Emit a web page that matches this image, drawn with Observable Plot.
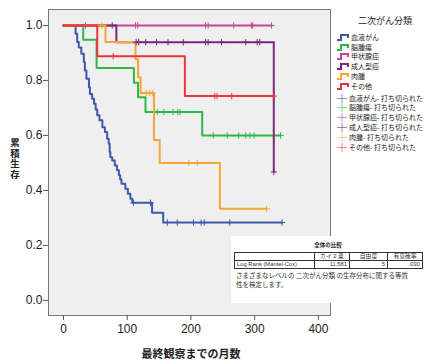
<!DOCTYPE html>
<html>
<head>
<meta charset="utf-8">
<script src="https://cdn.jsdelivr.net/npm/d3@7"></script>
<script src="https://cdn.jsdelivr.net/npm/@observablehq/plot@0.6"></script>
<style>
  html, body { margin: 0; padding: 0; background: #fff; }
  #wrap { position: relative; width: 432px; height: 362px; overflow: hidden; font-family: "Liberation Sans", "Noto Sans CJK JP", sans-serif; color: #222; }
  #chart { position: absolute; left: 0; top: 0; }
  .ylab { position: absolute; left: 8px; top: 138px; writing-mode: vertical-rl; font: bold 9.5px "Noto Sans CJK JP"; letter-spacing: 1px; color: #222; }
  .xlab { position: absolute; left: 0; width: 382px; top: 345px; text-align: center; font: bold 11px "Noto Sans CJK JP"; color: #222; }
  .leg { position: absolute; left: 334px; top: 0; width: 98px; font-family: "Noto Sans CJK JP"; }
  .legtitle { position: absolute; left: 24px; top: 14px; font-size: 9px; color: #222; white-space: nowrap; }
  .legrow { position: absolute; left: 0; height: 10px; white-space: nowrap; font-size: 7px; line-height: 10px; color: #222; }
  .legrow svg { position: absolute; left: 2px; top: 1px; }
  .legrow span { position: absolute; top: 0; }
  .stat { position: absolute; left: 231px; top: 236px; width: 196px; height: 67px; background: #fff; }
  .stat .ttl { position: absolute; left: 3px; width: 188px; top: 5px; text-align: center; font: bold 5.5px "Noto Sans CJK JP"; color: #222; }
  .stat table { position: absolute; left: 3px; top: 16px; width: 188px; table-layout: fixed; border-collapse: collapse; font-size: 5.8px; font-family: "Liberation Sans", "Noto Sans CJK JP"; color: #333; }
  .stat td { border: 1px solid #333; padding: 0 2px; height: 7px; line-height: 7px; white-space: nowrap; overflow: hidden; }
  .stat .note { position: absolute; left: 5px; top: 35px; width: 175px; font: 6.5px/8.5px "Noto Sans CJK JP"; color: #333; }
</style>
</head>
<body>
<div id="wrap">
  <div id="chart"></div>
  <div class="ylab">累積生存</div>
  <div class="xlab">最終観察までの月数</div>
  <div class="leg" id="legend"><div class="legtitle">二次がん分類</div></div>
  <div class="stat" id="stat"></div>
</div>
<script>
// ---- data ----
const groups = ["血液がん", "脳腫瘍", "甲状腺癌", "成人型癌", "肉腫", "その他"];
const colors = ["#3e58ac", "#2eb848", "#c2479a", "#7c287d", "#f8a531", "#ef3338"];

// step points (time, survival); last point = end of follow-up
const bloodT = [0, 19, 21.5, 24, 28, 32, 33.5, 36, 40, 41.5, 45, 48, 50.5, 53, 56.5, 61, 65, 68.5, 71, 72.5, 73.5, 76.5, 80.5, 84, 87, 89, 91, 97, 101, 105, 108, 139, 156.5, 343];
const bloodS = [1.0, 0.97, 0.94, 0.92, 0.897, 0.867, 0.836, 0.806, 0.775, 0.751, 0.733, 0.715, 0.694, 0.673, 0.655, 0.63, 0.612, 0.588, 0.57, 0.54, 0.521, 0.509, 0.491, 0.473, 0.455, 0.44, 0.424, 0.406, 0.388, 0.37, 0.355, 0.319, 0.283, 0.283];
const bloodC = [110, 136.5, 163, 178.5, 204, 216, 221, 261, 343];

const brainT = [0, 31, 52, 110.5, 117, 128.7, 217.7, 340.7];
const brainS = [1.0, 0.948, 0.845, 0.792, 0.739, 0.685, 0.6, 0.6];
const brainC = [147, 157.5, 172, 179.4, 182.6, 235, 257, 275, 286, 292.5, 299, 340.7];

const thyroidT = [0, 326.5];
const thyroidS = [1.0, 1.0];
const thyroidC = [34.5, 113, 116.5, 223, 227, 267, 295, 297, 326.5];

const adultT = [0, 83, 330];
const adultS = [1.0, 0.939, 0.467];
const adultC = [76.5, 114, 118, 129, 146, 164, 188, 223, 227, 248, 286, 304, 308, 330];

const sarcomaT = [0, 66, 113, 117, 121, 142, 151, 245.5, 318.7];
const sarcomaS = [1.0, 0.94, 0.877, 0.812, 0.754, 0.583, 0.5, 0.333, 0.333];
const sarcomaC = [60.7, 130, 135.5, 140, 196.7, 210, 318.7];

const otherT = [0, 53, 190.5, 330];
const otherS = [1.0, 0.888, 0.743, 0.743];
const otherC = [78, 237.5, 241, 264, 330];

const xTicks = [0, 100, 200, 300, 400];
const yTicks = [0, 0.2, 0.4, 0.6, 0.8, 1.0];

const censorLabel = "- 打ち切られた";
const statTitle = "全体の比較";
const statHead = ["", "カイ 2 乗", "自由度", "有意確率"];
const statRow = ["Log Rank (Mantel-Cox)", "11.581", "5", ".030"];
const statNote = "さまざまなレベルの 二次がん分類 の生存分布に関する等質性を検定します。";

// ---- build tables ----
const series = [
  {name: groups[0], t: bloodT, s: bloodS, c: bloodC},
  {name: groups[1], t: brainT, s: brainS, c: brainC},
  {name: groups[2], t: thyroidT, s: thyroidS, c: thyroidC},
  {name: groups[3], t: adultT, s: adultS, c: adultC},
  {name: groups[4], t: sarcomaT, s: sarcomaS, c: sarcomaC},
  {name: groups[5], t: otherT, s: otherS, c: otherC}
];
function survAt(d, time) {
  let v = d.s[0];
  for (let i = 0; i < d.t.length; i++) if (d.t[i] <= time) v = d.s[i];
  return v;
}
const lines = series.flatMap(d => d.t.map((t, i) => ({group: d.name, t, s: d.s[i]})));
const censors = series.flatMap(d => d.c.map(t => ({group: d.name, t, s: survAt(d, t)})));

const chart = Plot.plot({
  width: 432,
  height: 362,
  marginLeft: 48,
  marginTop: 9,
  marginRight: 102,
  marginBottom: 47,
  style: {fontFamily: "Liberation Sans", fontSize: "12px", color: "#222", background: "transparent"},
  x: {domain: [-23.5, 419]},
  y: {domain: [-0.055, 1.058]},
  color: {domain: groups, range: colors},
  marks: [
    Plot.frame({fill: "#efefef", stroke: "#777"}),
    Plot.axisX({ticks: xTicks, tickSize: 5, tickPadding: 4, label: null, stroke: "#555", fontSize: 12}),
    Plot.axisY({ticks: yTicks, tickSize: 5, tickPadding: 1, tickFormat: d3.format(".1f"), label: null, stroke: "#555", fontSize: 12}),
    Plot.line(lines, {x: "t", y: "s", z: "group", stroke: "group", curve: "step-after", strokeWidth: 2}),
    Plot.dot(censors, {x: "t", y: "s", stroke: "group", symbol: "plus", r: 2.2, fill: "none", strokeWidth: 1})
  ]
});
document.getElementById("chart").appendChild(chart);

// ---- legend ----
const leg = document.getElementById("legend");
const rowY = i => 31.7 + i * 9.8 + (i >= 6 ? 2 : 0);
groups.forEach((g, i) => {
  const r = document.createElement("div");
  r.className = "legrow";
  r.style.top = rowY(i) + "px";
  r.innerHTML = `<svg width="14" height="8"><path d="M1,7H5V2H12V5" fill="none" stroke="${colors[i]}" stroke-width="2"/></svg><span style="left:17px">${g}</span>`;
  leg.appendChild(r);
});
groups.forEach((g, i) => {
  const r = document.createElement("div");
  r.className = "legrow";
  r.style.top = rowY(i + 6) + "px";
  r.innerHTML = `<svg width="14" height="9"><path d="M1,4.5H11M6,0V9" fill="none" stroke="${colors[i]}" stroke-opacity="0.6" stroke-width="1"/></svg><span style="left:15px">${g}${censorLabel}</span>`;
  leg.appendChild(r);
});

// ---- statistics box ----
const st = document.getElementById("stat");
st.innerHTML = `<div class="ttl">${statTitle}</div>
<table>
<colgroup><col style="width:80px"><col style="width:35px"><col style="width:38px"><col style="width:35px"></colgroup>
<tr>${statHead.map(h => `<td style="text-align:center">${h}</td>`).join("")}</tr>
<tr>${statRow.map((v, i) => `<td style="text-align:${i === 0 ? "left" : "right"}">${v}</td>`).join("")}</tr>
</table>
<div class="note">${statNote}</div>`;
</script>
</body>
</html>
